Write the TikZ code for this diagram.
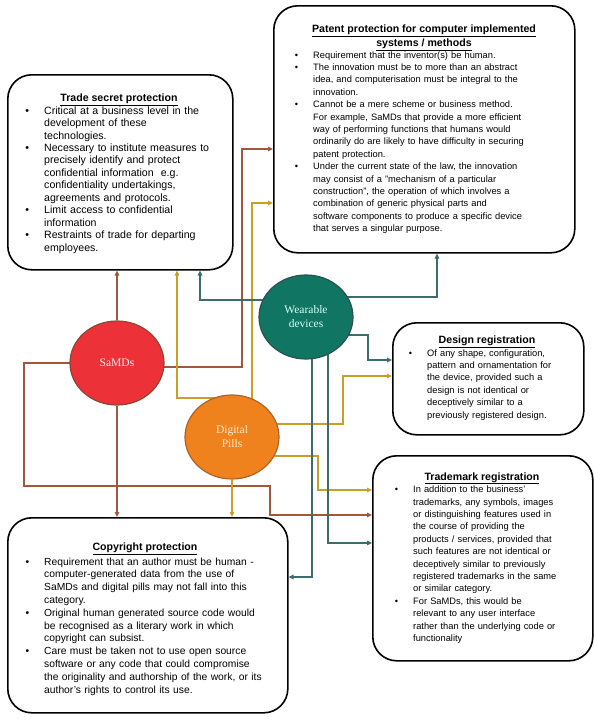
\documentclass[tikz,border=0pt]{standalone}
\usepackage{fontspec}
\setmainfont{Liberation Sans}
\newfontfamily\hubfont{Liberation Serif}
\usetikzlibrary{shapes.geometric,arrows.meta,backgrounds,calc}
\definecolor{samfill}{RGB}{236,50,56}
\definecolor{samedge}{RGB}{140,70,50}
\definecolor{samline}{RGB}{160,88,60}
\definecolor{samtext}{RGB}{255,240,240}
\definecolor{pillfill}{RGB}{240,130,30}
\definecolor{pilledge}{RGB}{170,100,40}
\definecolor{pillline}{RGB}{200,160,40}
\definecolor{pilltext}{RGB}{255,236,210}
\definecolor{wearfill}{RGB}{16,117,98}
\definecolor{wearedge}{RGB}{45,80,80}
\definecolor{wearline}{RGB}{62,108,110}
\definecolor{weartext}{RGB}{215,255,245}
\newenvironment{boxitems}{\begin{list}{\textbullet}{\setlength\leftmargin{0pt}\setlength\labelwidth{4pt}\setlength\labelsep{15pt}\setlength\itemsep{0pt}\setlength\topsep{0pt}\setlength\parsep{0pt}\setlength\partopsep{0pt}}}{\end{list}}
\begin{document}
\begin{tikzpicture}[x=1pt,y=-1pt,
  infobox/.style={draw,line width=1.6pt,rounded corners=24pt,fill=white,anchor=north west,inner sep=0pt},
  boxtitle/.style={font=\fontsize{10.6}{13.5}\selectfont\bfseries,inner sep=0pt,anchor=base},
  boxlist/.style={font=\fontsize{9.3}{12.4}\selectfont,inner sep=0pt,anchor=north west,align=left},
  hub/.style={ellipse,minimum width=94pt,minimum height=84pt,inner sep=0pt,line width=1.2pt,font=\hubfont\fontsize{11.5}{14}\selectfont,align=center},
  samarrow/.style={draw=samline,line width=1.3pt,-{Triangle[length=5pt,width=4.5pt]}},
  pillarrow/.style={draw=pillline,line width=1.3pt,-{Triangle[length=5pt,width=4.5pt]}},
  weararrow/.style={draw=wearline,line width=1.3pt,-{Triangle[length=5pt,width=4.5pt]}}]
\useasboundingbox (0,0) rectangle (594,723);
% boxes
\node[infobox,minimum width=225pt,minimum height=195pt] (trade) at (7,74) {};
\node[infobox,minimum width=301pt,minimum height=247pt] (patent) at (273,5) {};
\node[infobox,minimum width=191pt,minimum height=112pt] (design) at (392,322) {};
\node[infobox,minimum width=220pt,minimum height=205pt] (trademark) at (372,455) {};
\node[infobox,minimum width=280pt,minimum height=195pt] (copy) at (7,517) {};
% titles
\node[boxtitle] (tradet) at (119,101.8) {\underline{Trade secret protection}};
\node[boxtitle,anchor=north,align=center] (patentt) at (424,25) {\underline{Patent protection for computer implemented}\\\underline{systems / methods}};
\node[boxtitle] (designt) at (487,343.8) {\underline{Design registration}};
\node[boxtitle] (trademarkt) at (482,480) {\underline{Trademark registration}};
\node[boxtitle] (copyt) at (145,550.8) {\underline{Copyright protection}};
% lists
\node[boxlist,text width=185pt,font=\fontsize{10.6}{12.45}\selectfont] (tradel) at (44,101.5) {\begin{boxitems}
\item Critical at a business level in the\\development of these\\technologies.
\item Necessary to institute measures to\\precisely identify and protect\\confidential information\ \ e.g.\\confidentiality undertakings,\\agreements and protocols.
\item Limit access to confidential\\information
\item Restraints of trade for departing\\employees.
\end{boxitems}};
\node[boxlist,text width=258pt] (patentl) at (313,45.5) {\begin{boxitems}
\item Requirement that the inventor(s) be human.
\item The innovation must be to more than an abstract\\idea, and computerisation must be integral to the\\innovation.
\item Cannot be a mere scheme or business method.\\For example, SaMDs that provide a more efficient\\way of performing functions that humans would\\ordinarily do are likely to have difficulty in securing\\patent protection.
\item Under the current state of the law, the innovation\\may consist of a "mechanism of a particular\\construction", the operation of which involves a\\combination of generic physical parts and\\software components to produce a specific device\\that serves a singular purpose.
\end{boxitems}};
\node[boxlist,text width=152pt] (designl) at (427,343.5) {\begin{boxitems}
\item Of any shape, configuration,\\pattern and ornamentation for\\the device, provided such a\\design is not identical or\\deceptively similar to a\\previously registered design.
\end{boxitems}};
\node[boxlist,text width=172pt] (trademarkl) at (413,480) {\begin{boxitems}
\item In addition to the business'\\trademarks, any symbols, images\\or distinguishing features used in\\the course of providing the\\products / services, provided that\\such features are not identical or\\deceptively similar to previously\\registered trademarks in the same\\or similar category.
\item For SaMDs, this would be\\relevant to any user interface\\rather than the underlying code or\\functionality
\end{boxitems}};
\node[boxlist,text width=238pt,font=\fontsize{10.3}{12.8}\selectfont] (copyl) at (44,552) {\begin{boxitems}
\item Requirement that an author must be human -\\computer-generated data from the use of\\SaMDs and digital pills may not fall into this\\category.
\item Original human generated source code would\\be recognised as a literary work in which\\copyright can subsist.
\item Care must be taken not to use open source\\software or any code that could compromise\\the originality and authorship of the work, or its\\author's rights to control its use.
\end{boxitems}};
% technologies
\node[hub,fill=samfill,draw=samedge,text=samtext] (samds) at (117,363) {SaMDs};
\node[hub,fill=wearfill,draw=wearedge,text=weartext] (wear) at (306,317) {Wearable\\devices};
\node[hub,fill=pillfill,draw=pilledge,text=pilltext] (pills) at (232,437) {Digital\\Pills};
% connectors
\begin{scope}[on background layer]
\draw[samarrow] (samds) -- (samds |- trade.south);
\draw[samarrow] ($(samds.center)+(0,4)$) -| (242,149) -- (patent.west |- 242,149);
\draw[samarrow] (samds.center) -| (24,486) -| (270,515) -- (trademark.west |- 270,515);
\draw[samarrow] (samds) -- (samds |- copy.north);
\draw[pillarrow] ($(pills.center)+(0,-39)$) -| (trade.south -| 177,0);
\draw[pillarrow] ($(pills.center)+(20,0)$) |- (patent.west |- 0,203);
\draw[pillarrow] ($(pills.center)+(0,-13)$) -| (343,376) -- (design.west |- 0,376);
\draw[pillarrow] ($(pills.center)+(0,19)$) -| (318,490) -- (trademark.west |- 0,490);
\draw[pillarrow] (pills) -- (pills |- copy.north);
\draw[weararrow] ($(wear.center)+(0,-17)$) -| (trade.south -| 200,0);
\draw[weararrow] ($(wear.center)+(0,-20)$) -| (patent.south -| 437,0);
\draw[weararrow] ($(wear.center)+(0,18)$) -| (368,360) -- (design.west |- 0,360);
\draw[weararrow] ($(wear.center)+(6,0)$) |- (copy.east |- 0,577);
\draw[weararrow] ($(wear.center)+(22,0)$) |- (trademark.west |- 0,543);
\end{scope}
\end{tikzpicture}
\end{document}
